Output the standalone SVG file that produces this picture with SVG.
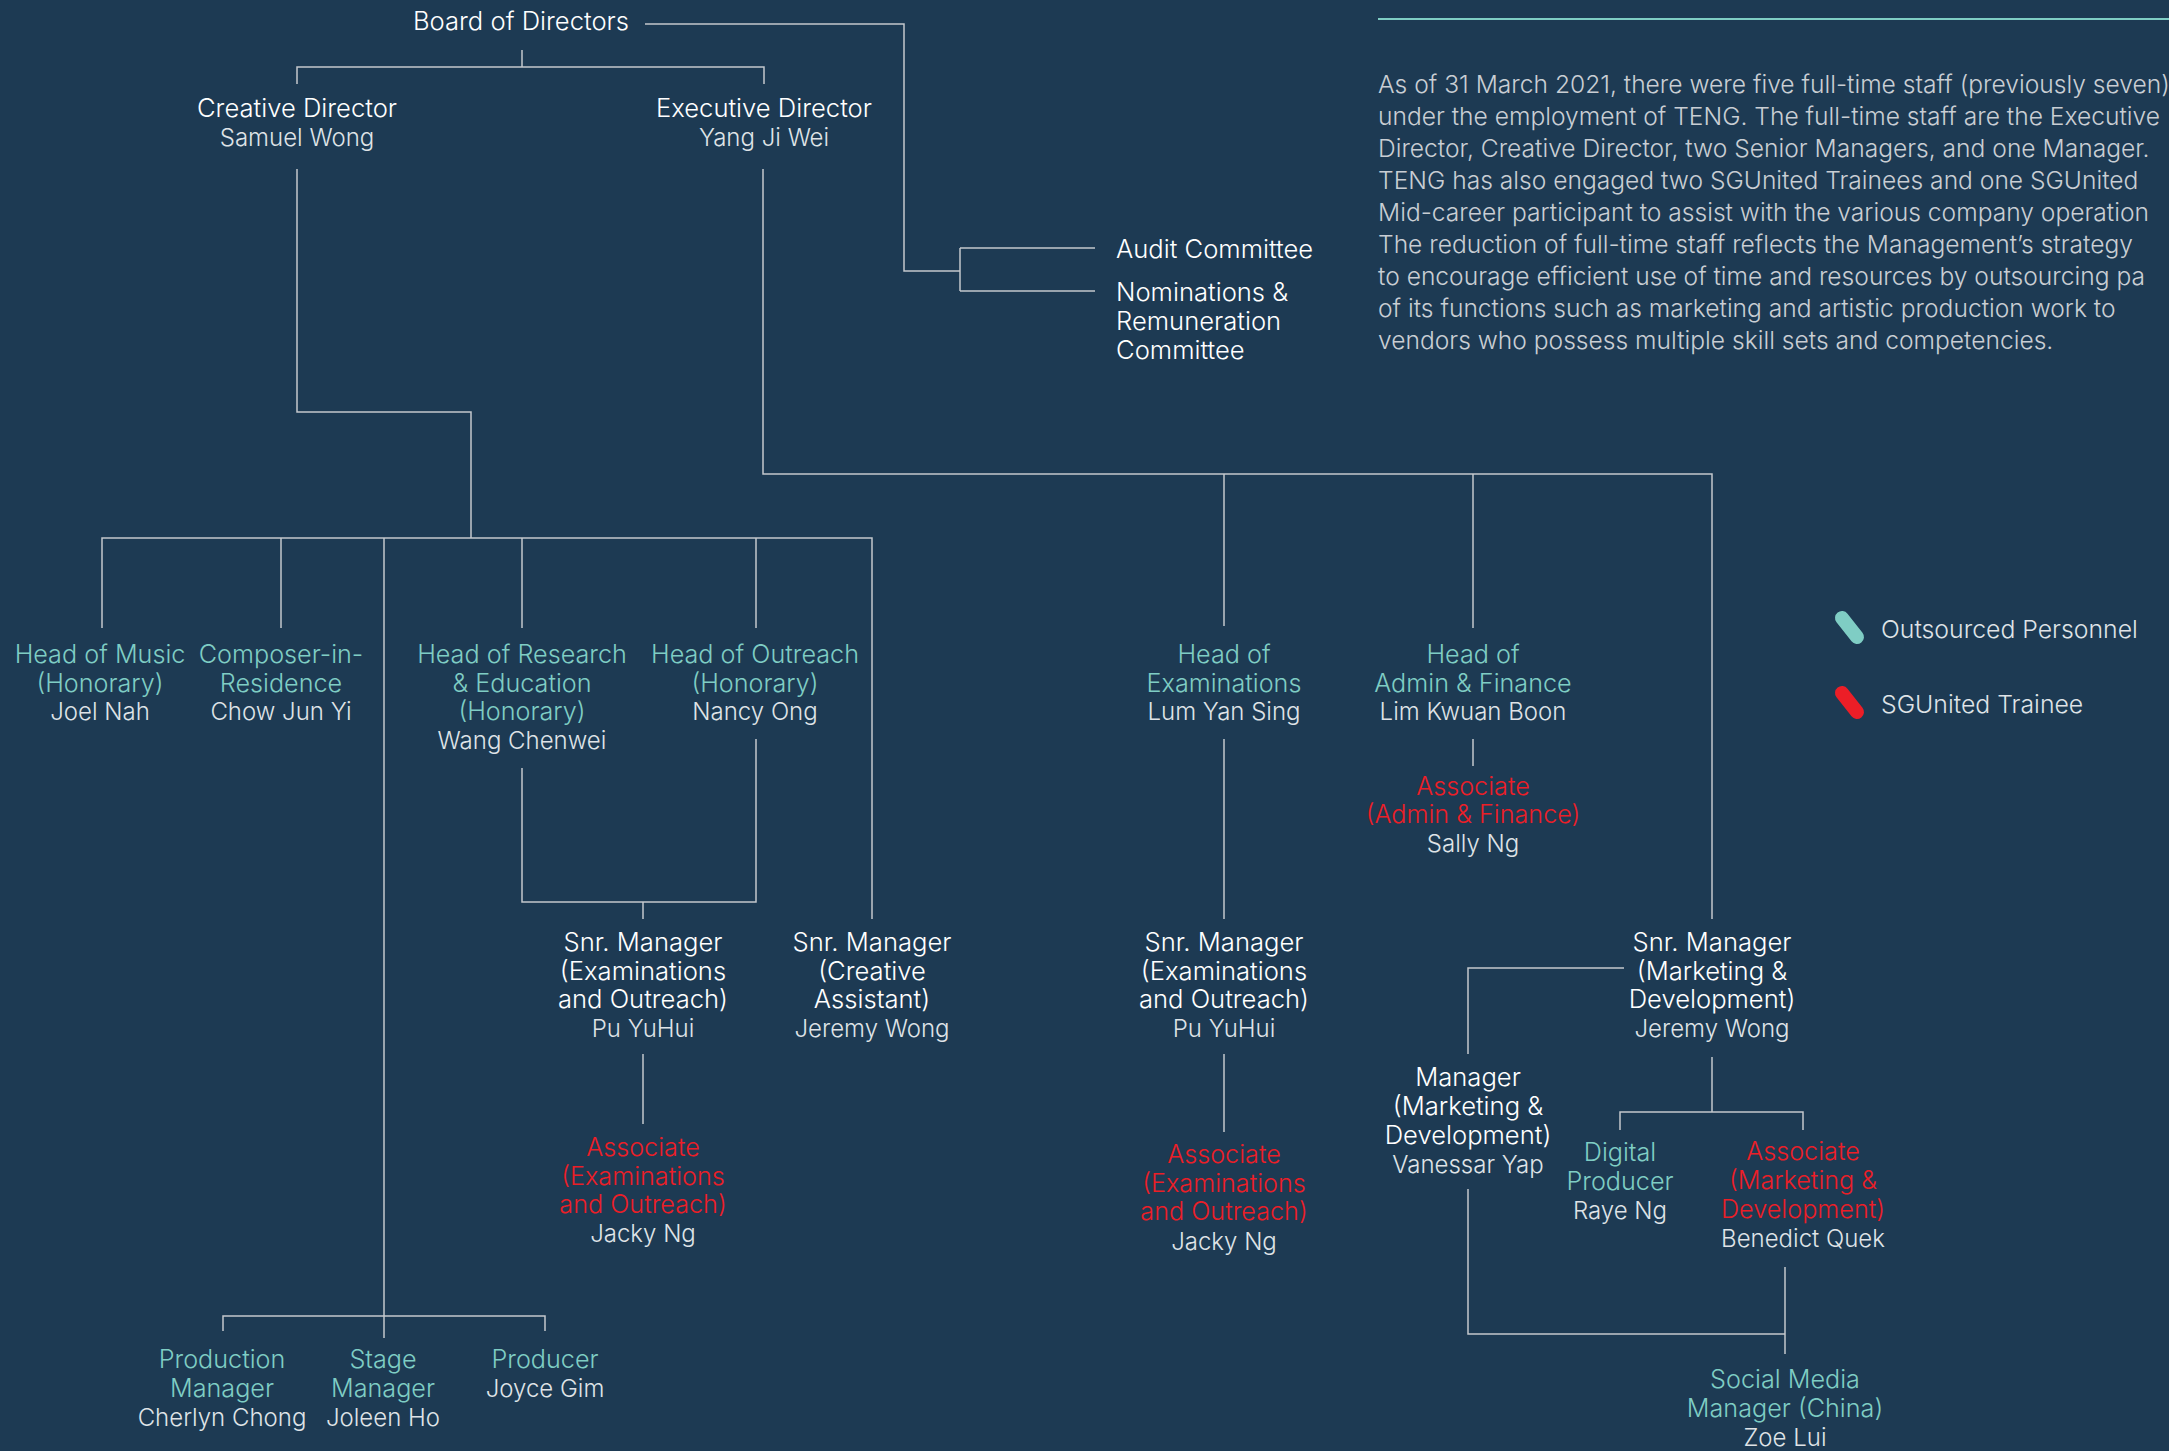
<svg xmlns="http://www.w3.org/2000/svg" width="2169" height="1451" viewBox="0 0 2169 1451">
<style>
text{font-family:Inter,"Liberation Sans",sans-serif;font-size:24px;font-weight:300}
.n text{text-anchor:middle}
.w{fill:#ffffff;font-size:25.6px}
.g{fill:#dfe3e7}
.t{fill:#7fcdc4;font-size:25.2px}
.r{fill:#ec1e27;font-size:25.2px}
.p{fill:#c9ced4;font-size:24.6px}
.l{fill:#dfe3e7;font-size:24.8px}
.c path{fill:none;stroke:#c3c8cd;stroke-width:1.5}
</style>
<rect width="2169" height="1451" fill="#1d3a53"/>
<g class="c" id="connectors">
<path d="M645,24 H904 V271 H960"/>
<path d="M960,248 V291"/>
<path d="M960,248 H1095"/>
<path d="M960,291 H1095"/>
<path d="M522,50 V67"/>
<path d="M297,84 V67 H764 V84"/>
<path d="M297,169 V412 H471 V538"/>
<path d="M102,628 V538 H872 V919"/>
<path d="M281,538 V628"/>
<path d="M384,538 V1338"/>
<path d="M522,538 V628"/>
<path d="M756,538 V628"/>
<path d="M522,768 V902 H756 V739"/>
<path d="M643,902 V919"/>
<path d="M643,1054 V1124"/>
<path d="M223,1331 V1316 H545 V1331"/>
<path d="M763,169 V474 H1712 V919"/>
<path d="M1224,474 V626"/>
<path d="M1473,474 V628"/>
<path d="M1224,739 V919"/>
<path d="M1473,739 V766"/>
<path d="M1224,1054 V1132"/>
<path d="M1624,968 H1468 V1054"/>
<path d="M1712,1057 V1112"/>
<path d="M1620,1130 V1112 H1803 V1130"/>
<path d="M1468,1189 V1334 H1785"/>
<path d="M1785,1267 V1354"/>
</g>
<g id="board" class="n"><text x="521" y="30" class="w">Board of Directors</text></g>
<g id="creative-director" class="n"><text x="297" y="117" class="w">Creative Director</text><text x="297" y="146" class="g">Samuel Wong</text></g>
<g id="executive-director" class="n"><text x="764" y="117" class="w">Executive Director</text><text x="764" y="146" class="g">Yang Ji Wei</text></g>
<g id="audit"><text x="1116" y="258" class="w">Audit Committee</text></g>
<g id="nominations"><text x="1116" y="301" class="w">Nominations &amp;</text><text x="1116" y="330" class="w">Remuneration</text><text x="1116" y="359" class="w">Committee</text></g>
<g id="head-music" class="n"><text x="100" y="663" class="t">Head of Music</text><text x="100" y="692" class="t">(Honorary)</text><text x="100" y="720" class="g">Joel Nah</text></g>
<g id="composer" class="n"><text x="281" y="663" class="t">Composer-in-</text><text x="281" y="692" class="t">Residence</text><text x="281" y="720" class="g">Chow Jun Yi</text></g>
<g id="head-research" class="n"><text x="522" y="663" class="t">Head of Research</text><text x="522" y="692" class="t">&amp; Education</text><text x="522" y="720" class="t">(Honorary)</text><text x="522" y="749" class="g">Wang Chenwei</text></g>
<g id="head-outreach" class="n"><text x="755" y="663" class="t">Head of Outreach</text><text x="755" y="692" class="t">(Honorary)</text><text x="755" y="720" class="g">Nancy Ong</text></g>
<g id="head-exams" class="n"><text x="1224" y="663" class="t">Head of</text><text x="1224" y="692" class="t">Examinations</text><text x="1224" y="720" class="g">Lum Yan Sing</text></g>
<g id="head-admin" class="n"><text x="1473" y="663" class="t">Head of</text><text x="1473" y="692" class="t">Admin &amp; Finance</text><text x="1473" y="720" class="g">Lim Kwuan Boon</text></g>
<g id="assoc-admin" class="n"><text x="1473" y="795" class="r">Associate</text><text x="1473" y="823" class="r">(Admin &amp; Finance)</text><text x="1473" y="852" class="g">Sally Ng</text></g>
<g id="snr-exam-left" class="n"><text x="643" y="951" class="w">Snr. Manager</text><text x="643" y="980" class="w">(Examinations</text><text x="643" y="1008" class="w">and Outreach)</text><text x="643" y="1037" class="g">Pu YuHui</text></g>
<g id="snr-creative" class="n"><text x="872" y="951" class="w">Snr. Manager</text><text x="872" y="980" class="w">(Creative</text><text x="872" y="1008" class="w">Assistant)</text><text x="872" y="1037" class="g">Jeremy Wong</text></g>
<g id="assoc-exam-left" class="n"><text x="643" y="1156" class="r">Associate</text><text x="643" y="1185" class="r">(Examinations</text><text x="643" y="1213" class="r">and Outreach)</text><text x="643" y="1242" class="g">Jacky Ng</text></g>
<g id="snr-exam-right" class="n"><text x="1224" y="951" class="w">Snr. Manager</text><text x="1224" y="980" class="w">(Examinations</text><text x="1224" y="1008" class="w">and Outreach)</text><text x="1224" y="1037" class="g">Pu YuHui</text></g>
<g id="assoc-exam-right" class="n"><text x="1224" y="1163" class="r">Associate</text><text x="1224" y="1192" class="r">(Examinations</text><text x="1224" y="1220" class="r">and Outreach)</text><text x="1224" y="1250" class="g">Jacky Ng</text></g>
<g id="snr-marketing" class="n"><text x="1712" y="951" class="w">Snr. Manager</text><text x="1712" y="980" class="w">(Marketing &amp;</text><text x="1712" y="1008" class="w">Development)</text><text x="1712" y="1037" class="g">Jeremy Wong</text></g>
<g id="mgr-marketing" class="n"><text x="1468" y="1086" class="w">Manager</text><text x="1468" y="1115" class="w">(Marketing &amp;</text><text x="1468" y="1144" class="w">Development)</text><text x="1468" y="1173" class="g">Vanessar Yap</text></g>
<g id="digital-producer" class="n"><text x="1620" y="1161" class="t">Digital</text><text x="1620" y="1190" class="t">Producer</text><text x="1620" y="1219" class="g">Raye Ng</text></g>
<g id="assoc-marketing" class="n"><text x="1803" y="1160" class="r">Associate</text><text x="1803" y="1189" class="r">(Marketing &amp;</text><text x="1803" y="1218" class="r">Development)</text><text x="1803" y="1247" class="g">Benedict Quek</text></g>
<g id="production-manager" class="n"><text x="222" y="1368" class="t">Production</text><text x="222" y="1397" class="t">Manager</text><text x="222" y="1426" class="g">Cherlyn Chong</text></g>
<g id="stage-manager" class="n"><text x="383" y="1368" class="t">Stage</text><text x="383" y="1397" class="t">Manager</text><text x="383" y="1426" class="g">Joleen Ho</text></g>
<g id="producer" class="n"><text x="545" y="1368" class="t">Producer</text><text x="545" y="1397" class="g">Joyce Gim</text></g>
<g id="social-media" class="n"><text x="1785" y="1388" class="t">Social Media</text><text x="1785" y="1417" class="t">Manager (China)</text><text x="1785" y="1446" class="g">Zoe Lui</text></g>
<g id="note">
<path d="M1378,19 H2169" stroke="#7fcdc4" stroke-width="2" fill="none"/>
<text class="p" x="1378" y="93">As of 31 March 2021, there were five full-time staff (previously seven)</text>
<text class="p" x="1378" y="125">under the employment of TENG. The full-time staff are the Executive</text>
<text class="p" x="1378" y="157">Director, Creative Director, two Senior Managers, and one Manager.</text>
<text class="p" x="1378" y="189">TENG has also engaged two SGUnited Trainees and one SGUnited</text>
<text class="p" x="1378" y="221">Mid-career participant to assist with the various company operation</text>
<text class="p" x="1378" y="253">The reduction of full-time staff reflects the Management’s strategy</text>
<text class="p" x="1378" y="285">to encourage efficient use of time and resources by outsourcing pa</text>
<text class="p" x="1378" y="317">of its functions such as marketing and artistic production work to</text>
<text class="p" x="1378" y="349">vendors who possess multiple skill sets and competencies.</text>
</g>
<g id="legend">
<path d="M1842,618 L1857,637" stroke="#7fcdc4" stroke-width="14" stroke-linecap="round"/>
<text x="1881" y="638" class="l">Outsourced Personnel</text>
<path d="M1842,693 L1857,712" stroke="#ec1e27" stroke-width="14" stroke-linecap="round"/>
<text x="1881" y="713" class="l">SGUnited Trainee</text>
</g>
</svg>
